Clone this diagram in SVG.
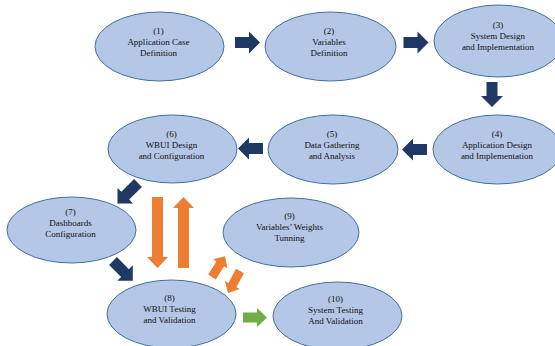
<svg xmlns="http://www.w3.org/2000/svg" width="555" height="346" viewBox="0 0 555 346">
<style>
.node ellipse{fill:#b4c7e7;stroke:#41719c;stroke-width:1}
.node text{font-family:"Liberation Serif","Times New Roman",serif;font-size:9px;fill:#111;text-anchor:middle}
.navy{fill:#203864}
.orange{fill:#ed7d31}
.green{fill:#70ad47}
</style>
<rect width="555" height="346" fill="#ffffff"/>
<g id="connectors">
<path class="navy" transform="translate(235,42.5)" d="M0,-5.5H14V-11L25,0L14,11V5.5H0Z"/>
<path class="navy" transform="translate(403.5,42.5)" d="M0,-5.5H14V-11L25,0L14,11V5.5H0Z"/>
<path class="navy" transform="translate(492,82) rotate(90)" d="M0,-5.5H14V-11L25,0L14,11V5.5H0Z"/>
<path class="navy" transform="translate(427,149.5) rotate(180)" d="M0,-5.5H14V-11L25,0L14,11V5.5H0Z"/>
<path class="navy" transform="translate(263,148.5) rotate(180)" d="M0,-5.5H14V-11L25,0L14,11V5.5H0Z"/>
<path class="navy" transform="translate(138,183) rotate(135)" d="M0,-5.5H18V-11L29,0L18,11V5.5H0Z"/>
<path class="navy" transform="translate(113,261) rotate(45)" d="M0,-5.5H17V-11L28,0L17,11V5.5H0Z"/>
<path class="orange" transform="translate(157.5,197) rotate(90)" d="M0,-5.5H60V-10.5L71,0L60,10.5V5.5H0Z"/>
<path class="orange" transform="translate(183.5,268) rotate(-90)" d="M0,-5.5H60V-10.5L71,0L60,10.5V5.5H0Z"/>
<path class="orange" transform="translate(212,277) rotate(-58)" d="M0,-4.5H15.5V-8.5L24.5,0L15.5,8.5V4.5H0Z"/>
<path class="orange" transform="translate(240,271) rotate(118.6)" d="M0,-4.5H16V-8.5L25,0L16,8.5V4.5H0Z"/>
<path class="green" transform="translate(243,317.5)" d="M0,-5H14V-9.5L24,0L14,9.5V5H0Z"/>
</g>
<g id="n1" class="node"><ellipse cx="159.5" cy="46.5" rx="64.5" ry="34.5"/><text x="158.5" y="34">(1)</text><text x="158.5" y="45">Application Case</text><text x="158.5" y="56">Definition</text></g>
<g id="n2" class="node"><ellipse cx="330.5" cy="46.5" rx="65.5" ry="34.5"/><text x="329" y="34">(2)</text><text x="329" y="45">Variables</text><text x="329" y="56">Definition</text></g>
<g id="n3" class="node"><ellipse cx="498.5" cy="41" rx="64.5" ry="36"/><text x="498" y="28">(3)</text><text x="498" y="39">System Design</text><text x="498" y="50">and Implementation</text></g>
<g id="n4" class="node"><ellipse cx="497.5" cy="149.5" rx="64.5" ry="34.5"/><text x="497" y="137">(4)</text><text x="497" y="148">Application Design</text><text x="497" y="159">and Implementation</text></g>
<g id="n5" class="node"><ellipse cx="333" cy="149.5" rx="65" ry="34.5"/><text x="332" y="137">(5)</text><text x="332" y="148">Data Gathering</text><text x="332" y="159">and Analysis</text></g>
<g id="n6" class="node"><ellipse cx="172.5" cy="149" rx="64.5" ry="34"/><text x="171.5" y="137">(6)</text><text x="171.5" y="148">WBUI Design</text><text x="171.5" y="159">and Configuration</text></g>
<g id="n7" class="node"><ellipse cx="71.5" cy="230" rx="64.5" ry="33"/><text x="70.5" y="215">(7)</text><text x="70.5" y="226">Dashboards</text><text x="70.5" y="236.5">Configuration</text></g>
<g id="n8" class="node"><ellipse cx="171.5" cy="314" rx="64.5" ry="34"/><text x="169.5" y="301">(8)</text><text x="169.5" y="312">WBUI Testing</text><text x="169.5" y="323">and Validation</text></g>
<g id="n9" class="node"><ellipse cx="291" cy="232.5" rx="68" ry="34.5"/><text x="289.5" y="219">(9)</text><text x="289.5" y="230">Variables’ Weights</text><text x="289.5" y="241">Tunning</text></g>
<g id="n10" class="node"><ellipse cx="337.5" cy="316" rx="64.5" ry="34"/><text x="335.5" y="302">(10)</text><text x="335.5" y="313">System Testing</text><text x="335.5" y="324">And Validation</text></g>
</svg>
